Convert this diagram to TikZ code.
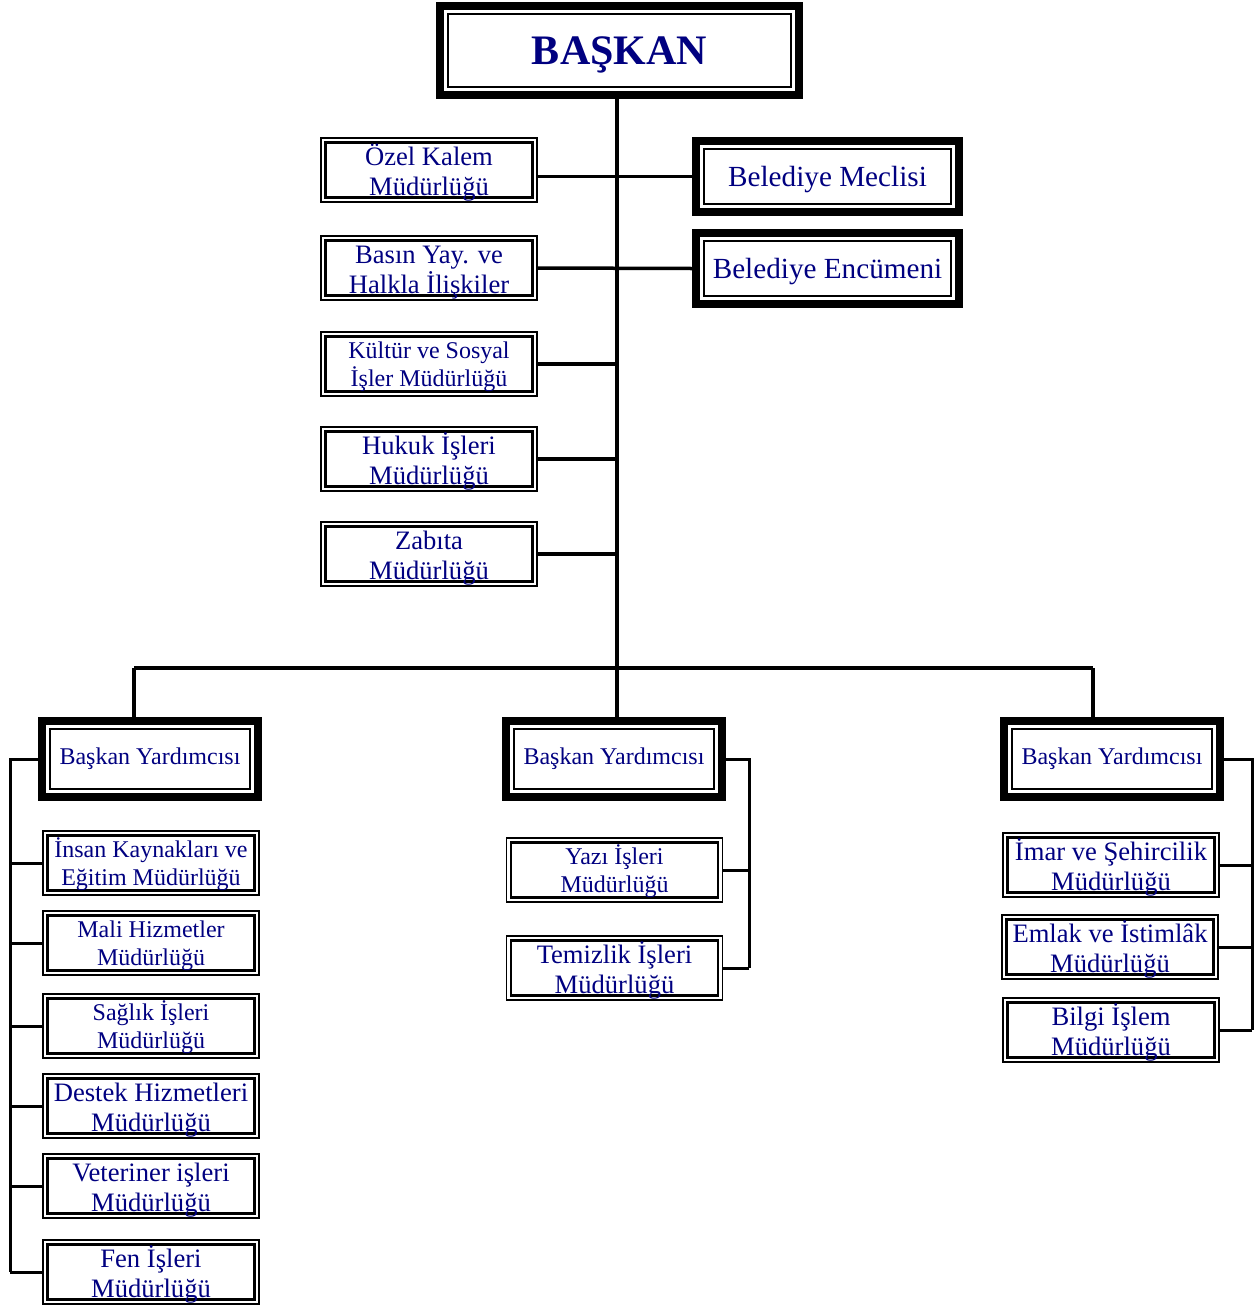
\documentclass[tikz,border=0pt]{standalone}
\usepackage{fontspec}
\setmainfont{Liberation Serif}
\definecolor{lacivert}{RGB}{0,0,128}
\newcommand{\ust}{\rule{0pt}{13.5pt}}
\newcommand{\ustk}{\rule{0pt}{11pt}}
\tikzset{iccerceve/.style 2 args={path picture={\draw[line width=#2]
  ([shift={(#1,#1)}]path picture bounding box.south west) rectangle
  ([shift={(-#1,-#1)}]path picture bounding box.north east);}}}
\tikzstyle{mudurluk} = [draw, rectangle, line width=0.85pt, minimum width=108pt,
minimum height=32pt, inner sep=0pt, align=center, text=lacivert,
font=\fontsize{13.3}{15}\selectfont, iccerceve={2.25pt}{1.15pt}]
\tikzstyle{kucuk} = [font=\fontsize{12}{13.8}\selectfont]
\tikzstyle{kalin} = [draw, rectangle, line width=4pt, inner sep=0pt, align=center,
text=lacivert, iccerceve={4pt}{1.1pt}]
\tikzstyle{kurul} = [kalin, minimum width=131.5pt, minimum height=35.5pt,
text depth=0pt, font=\fontsize{14.6}{17}\selectfont]
\tikzstyle{yardimci} = [kalin, kucuk, minimum width=108pt, minimum height=38pt]
\tikzstyle{hat} = [line width=1.75pt]

\begin{document}
\begin{tikzpicture}[x=0.5pt, y=-0.5pt]
\useasboundingbox (0,0) rectangle (1259,1307);

\node [kalin, minimum width=179.5pt, minimum height=44.5pt, text depth=0pt,
  font=\bfseries\fontsize{21}{24}\selectfont] (baskan) at (619.5,50.5) {BAŞKAN};

\node [mudurluk] (ozel) at (429,170) {\ust Özel Kalem\\Müdürlüğü};
\node [mudurluk] (basin) at (429,268) {\ust Basın Yay. ve\\Halkla İlişkiler};
\node [mudurluk,kucuk] (kultur) at (429,364) {\ustk Kültür ve Sosyal\\İşler Müdürlüğü};
\node [mudurluk] (hukuk) at (429,459) {\ust Hukuk İşleri\\Müdürlüğü};
\node [mudurluk] (zabita) at (429,554) {\ust Zabıta\\Müdürlüğü};

\node [kurul] (meclis) at (827.5,176.5) {Belediye Meclisi};
\node [kurul] (encumen) at (827.5,268.5) {Belediye Encümeni};

% baskan yardimcilari
\node [yardimci] (byL) at (150,759) {Başkan Yardımcısı};
\node [yardimci] (byM) at (614,759) {Başkan Yardımcısı};
\node [yardimci] (byR) at (1112,759) {Başkan Yardımcısı};

\node [mudurluk,kucuk] (insan) at (151,863) {\ustk İnsan Kaynakları ve\\Eğitim Müdürlüğü};
\node [mudurluk,kucuk] (mali) at (151,943) {\ustk Mali Hizmetler\\Müdürlüğü};
\node [mudurluk,kucuk] (saglik) at (151,1026) {\ustk Sağlık İşleri\\Müdürlüğü};
\node [mudurluk] (destek) at (151,1106) {\ust Destek Hizmetleri\\Müdürlüğü};
\node [mudurluk] (veteriner) at (151,1186) {\ust Veteriner işleri\\Müdürlüğü};
\node [mudurluk] (fen) at (151,1272) {\ust Fen İşleri\\Müdürlüğü};

\node [mudurluk,kucuk] (yazi) at (614.5,870) {\ustk Yazı İşleri\\Müdürlüğü};
\node [mudurluk] (temizlik) at (614.5,968) {\ust Temizlik İşleri\\Müdürlüğü};

\node [mudurluk] (imar) at (1111,865) {\ust İmar ve Şehircilik\\Müdürlüğü};
\node [mudurluk] (emlak) at (1110,947) {\ust Emlak ve İstimlâk\\Müdürlüğü};
\node [mudurluk] (bilgi) at (1111,1030) {\ust Bilgi İşlem\\Müdürlüğü};

\coordinate (govde) at (617,0);
\coordinate (busL) at (134,668);
\coordinate (busR) at (1093,668);
\coordinate (solhat) at (10,0);
\coordinate (orthat) at (749,0);
\coordinate (saghat) at (1252,0);

\draw [line width=2pt] (baskan.south -| govde) -- (byM.north -| govde);

\draw [hat] (ozel.east |- meclis.west) -- (meclis.west);
\draw [hat] (basin.east) -- (encumen.west);
\draw [hat] (kultur.east) -- (kultur.east -| govde);
\draw [hat] (hukuk.east) -- (hukuk.east -| govde);
\draw [hat] (zabita.east) -- (zabita.east -| govde);

\draw [hat] (busL) -- (busR);
\draw [hat] (busL) -- (busL |- byL.north);
\draw [hat] (busR) -- (busR |- byR.north);

\draw [line width=1.5pt] (byL.west) -- (byL.west -| solhat) -- (fen.west -| solhat);
\foreach \b in {insan,mali,saglik,destek,veteriner,fen}
  \draw [line width=1.5pt] (\b.west) -- (\b.west -| solhat);

\draw [line width=1.5pt] (byM.east) -- (byM.east -| orthat) -- (temizlik.east -| orthat);
\foreach \b in {yazi,temizlik}
  \draw [line width=1.5pt] (\b.east) -- (\b.east -| orthat);

\draw [line width=1.5pt] (byR.east) -- (byR.east -| saghat) -- (bilgi.east -| saghat);
\foreach \b in {imar,emlak,bilgi}
  \draw [line width=1.5pt] (\b.east) -- (\b.east -| saghat);
\end{tikzpicture}
\end{document}
